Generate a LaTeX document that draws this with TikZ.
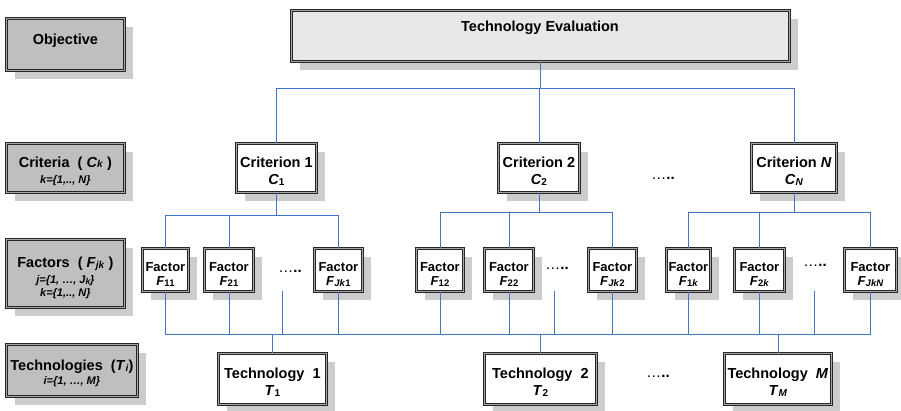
\documentclass[tikz,border=0pt]{standalone}
\usepackage{fontspec}
\setmainfont{Liberation Sans}
\usetikzlibrary{shadows}
\definecolor{wirecol}{RGB}{68,114,196}
\newcommand\sbs[1]{\raisebox{-0.8pt}{\fontsize{10}{10}\selectfont #1}}
\newcommand\sbf[1]{\raisebox{-0.8pt}{\fontsize{9.5}{9.5}\selectfont #1}}
\newcommand\sbm[1]{\raisebox{-0.6pt}{\fontsize{8.5}{8.5}\selectfont #1}}
\newcommand\bigf{\fontsize{14.5}{17}\selectfont}
\newcommand\smallf{\fontsize{11}{12}\selectfont\itshape}
\newcommand\pushdn[1]{\rule{0pt}{#1}}
\newcommand\pushup[1]{\rule[-#1]{0pt}{#1}}
\newcommand\dotsrow{{\fontsize{15}{15}\selectfont\mdseries …\bfseries ..}}
\begin{document}
\begin{tikzpicture}[x=1pt,y=-1pt,
  box/.style={draw=black!85, double=black!35, double distance=1.2pt, line width=0.8pt,
    inner sep=0pt, anchor=north west, align=center,
    drop shadow={shadow xshift=9pt, shadow yshift=-9pt, opacity=1, fill=black!20, draw=none}},
  lblbox/.style={box, fill=black!25, font=\bfseries\bigf},
  critbox/.style={box, fill=white, font=\bfseries\bigf},
  facbox/.style={box, fill=white, font=\bfseries\fontsize{13}{15}\selectfont},
  wire/.style={draw=wirecol, line width=0.8pt},
  dotsnode/.style={inner sep=0pt, font=\bfseries},
]
\useasboundingbox (0,0) rectangle (901,411);

% left label boxes
\node[lblbox, minimum width=118pt, minimum height=52pt] (obj) at (6,18) {Objective\pushup{11pt}};
\node[lblbox, minimum width=118pt, minimum height=49pt] (critlbl) at (6,143)
  {\pushdn{16.6pt}Criteria\ \ ( \textit{C}\sbs{\textit{k}} )\\[-1pt]{\smallf k=\{1,.., N\}}};
\node[lblbox, minimum width=118pt, minimum height=68pt] (faclbl) at (6,239)
  {\pushdn{19.6pt}Factors\ \ ( \textit{F}\sbs{\textit{jk}} )\\[-1pt]{\smallf j=\{1, …, J\sbm{k}\}}\\[-4pt]{\smallf k=\{1,.., N\}}};
\node[lblbox, minimum width=131pt, minimum height=52pt] (techlbl) at (6,344)
  {\pushdn{16.6pt}Technologies\ \ (\textit{T}\sbs{\textit{i}})\\[-3pt]{\smallf i=\{1, …, M\}}};

% objective box
\node[box, fill=black!9, minimum width=498pt, minimum height=51pt] (te) at (291,10) {};
\node[inner sep=0pt, font=\bfseries\bigf] (tetext) at (540,28) {Technology Evaluation};

% criteria
\node[critbox, minimum width=80pt, minimum height=49pt] (c1) at (236,143) {\pushdn{17.6pt}Criterion 1\\\textit{C}\sbs{1}};
\node[critbox, minimum width=81pt, minimum height=49pt] (c2) at (498,143) {\pushdn{17.6pt}Criterion 2\\\textit{C}\sbs{2}};
\node[critbox, minimum width=85pt, minimum height=49pt] (cN) at (751,143) {\pushdn{17.6pt}Criterion \textit{N}\\\textit{C}\sbs{\textit{N}}};

% factors
\node[facbox, minimum width=46pt, minimum height=43pt] (f11) at (142,248) {\pushdn{17.5pt}Factor\\[-1pt]\textit{F}\sbf{11}};
\node[facbox, minimum width=49pt, minimum height=43pt] (f21) at (204,248) {\pushdn{17.5pt}Factor\\[-1pt]\textit{F}\sbf{21}};
\node[facbox, minimum width=48pt, minimum height=43pt] (fJ1) at (314,248) {\pushdn{17.5pt}Factor\\[-1pt]\textit{F}\sbf{\textit{Jk}1}};
\node[facbox, minimum width=47pt, minimum height=43pt] (f12) at (416,248) {\pushdn{17.5pt}Factor\\[-1pt]\textit{F}\sbf{12}};
\node[facbox, minimum width=49pt, minimum height=43pt] (f22) at (484,248) {\pushdn{17.5pt}Factor\\[-1pt]\textit{F}\sbf{22}};
\node[facbox, minimum width=48pt, minimum height=43pt] (fJ2) at (588,248) {\pushdn{17.5pt}Factor\\[-1pt]\textit{F}\sbf{\textit{Jk}2}};
\node[facbox, minimum width=44pt, minimum height=43pt] (f1k) at (666,248) {\pushdn{17.5pt}Factor\\[-1pt]\textit{F}\sbf{1\textit{k}}};
\node[facbox, minimum width=50pt, minimum height=43pt] (f2k) at (734,248) {\pushdn{17.5pt}Factor\\[-1pt]\textit{F}\sbf{2\textit{k}}};
\node[facbox, minimum width=52pt, minimum height=43pt] (fJN) at (844,248) {\pushdn{17.5pt}Factor\\[-1pt]\textit{F}\sbf{\textit{JkN}}};

% technologies
\node[critbox, minimum width=108pt, minimum height=51pt] (t1) at (218,353) {\pushdn{17.6pt}Technology\ \ 1\\\textit{T}\sbs{1}};
\node[critbox, minimum width=112pt, minimum height=51pt] (t2) at (484,353) {\pushdn{17.6pt}Technology\ \ 2\\\textit{T}\sbs{2}};
\node[critbox, minimum width=107pt, minimum height=51pt] (tM) at (724,353) {\pushdn{17.6pt}Technology\ \ \textit{M}\\\textit{T}\sbs{\textit{M}}};

% dots
\node[dotsnode] (dc) at (663,178) {\dotsrow};
\node[dotsnode] (df1) at (290,271) {\dotsrow};
\node[dotsnode] (df2) at (557,268) {\dotsrow};
\node[dotsnode] (dfN) at (815,265) {\dotsrow};
\node[dotsnode] (dt) at (658,376) {\dotsrow};

% bus coordinates
\coordinate (bt) at (0,88);
\coordinate (b1) at (0,215);
\coordinate (b2) at (0,212);
\coordinate (bN) at (0,212);
\coordinate (bb) at (0,334);
\coordinate (d1) at (282,291);
\coordinate (d2) at (554,291);
\coordinate (d3) at (814,291);

% top level
\draw[wire] (te.south) -- (te.south |- bt);
\draw[wire] (c1.north) -- (c1.north |- bt) -- (cN.north |- bt) -- (cN.north);
\draw[wire] (c2.north) -- (c2.north |- bt);

% criterion 1 group
\draw[wire] (c1.south) -- (c1.south |- b1);
\draw[wire] (f11.north) -- (f11.north |- b1) -- (fJ1.north |- b1) -- (fJ1.north);
\draw[wire] (f21.north) -- (f21.north |- b1);
% criterion 2 group
\draw[wire] (c2.south) -- (c2.south |- b2);
\draw[wire] (f12.north) -- (f12.north |- b2) -- (fJ2.north |- b2) -- (fJ2.north);
\draw[wire] (f22.north) -- (f22.north |- b2);
% criterion N group
\draw[wire] (cN.south) -- (cN.south |- bN);
\draw[wire] (f1k.north) -- (f1k.north |- bN) -- (fJN.north |- bN) -- (fJN.north);
\draw[wire] (f2k.north) -- (f2k.north |- bN);

% bottom bus
\draw[wire] (f11.south) -- (f11.south |- bb) -- (fJN.south |- bb) -- (fJN.south);
\foreach \f in {f21,fJ1,f12,f22,fJ2,f1k,f2k} {\draw[wire] (\f.south) -- (\f.south |- bb);}
\foreach \d in {d1,d2,d3} {\draw[wire] (\d) -- (\d |- bb);}
\foreach \t in {t1,t2,tM} {\draw[wire] (\t.north) -- (\t.north |- bb);}
\end{tikzpicture}
\end{document}
